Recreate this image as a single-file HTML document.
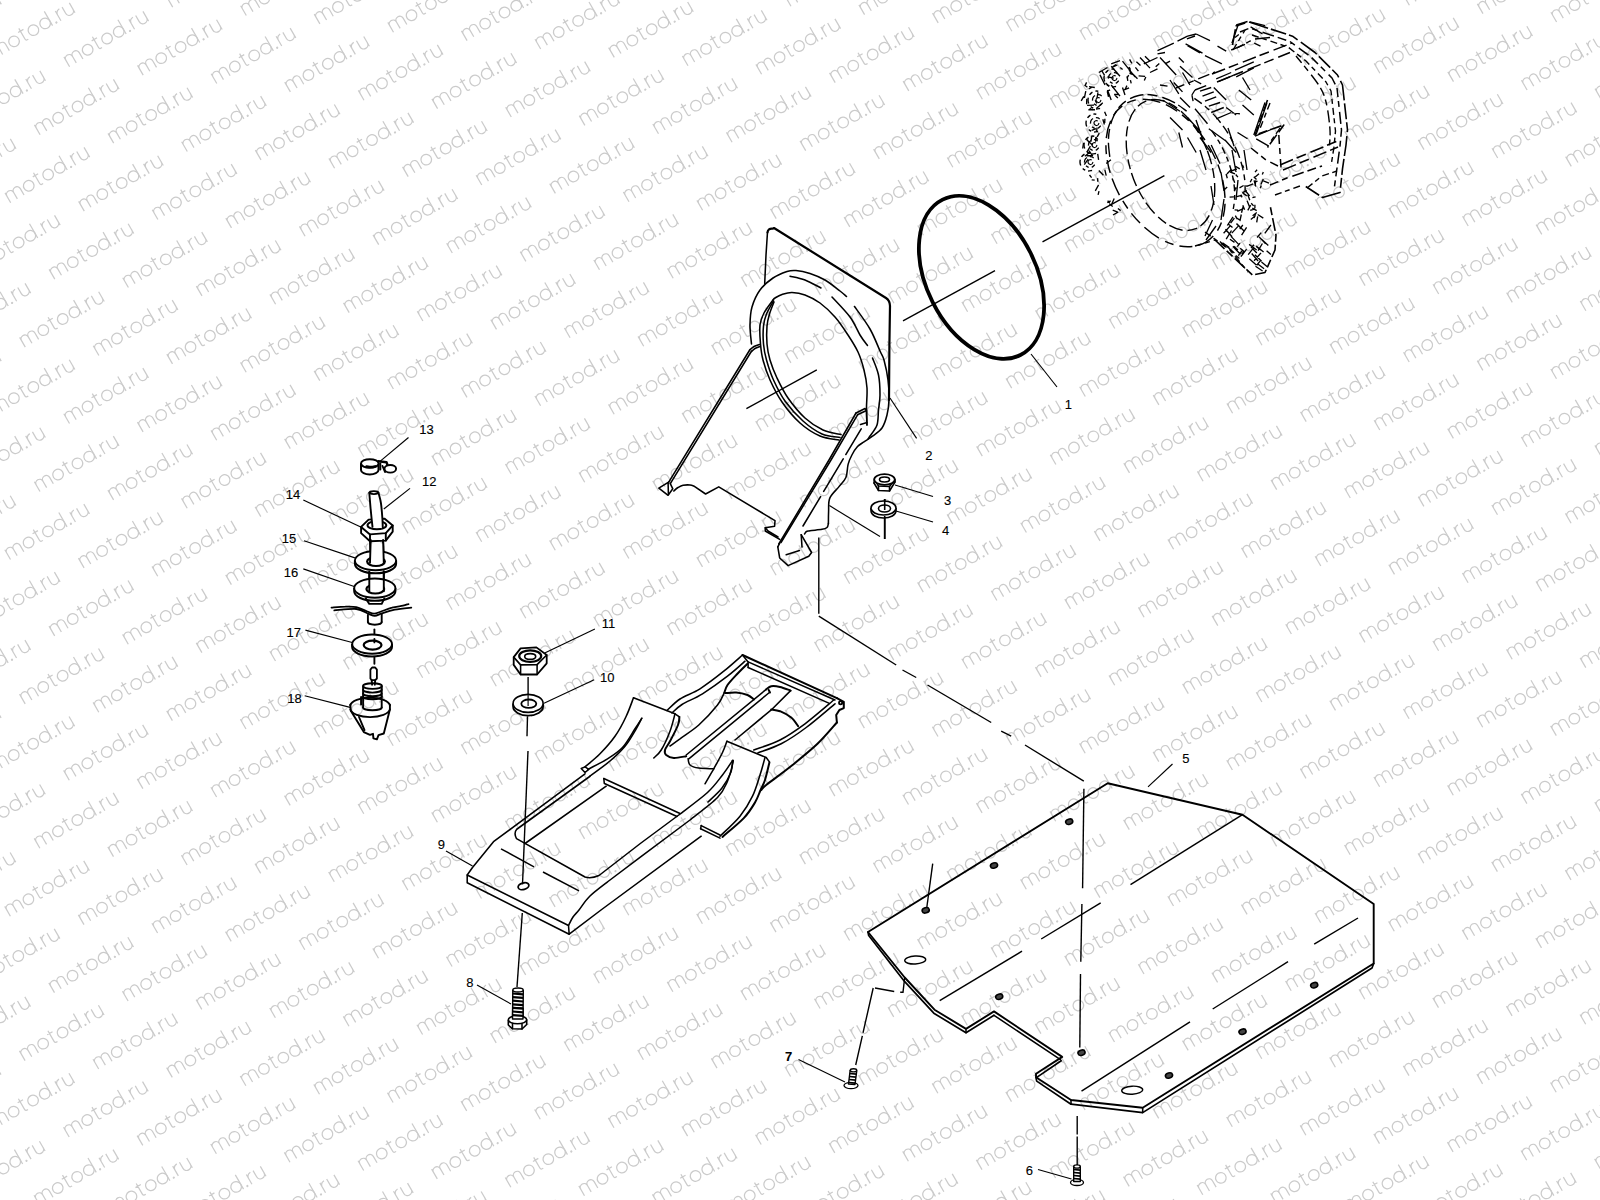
<!DOCTYPE html>
<html><head><meta charset="utf-8"><title>diagram</title>
<style>
html,body{margin:0;padding:0;background:#fff;}
body{width:1600px;height:1200px;overflow:hidden;font-family:"Liberation Sans",sans-serif;}
svg{display:block;position:absolute;left:0;top:0;}
.wm{fill:none;stroke:#cbcbcb;stroke-width:1.25;stroke-linecap:butt;}
.p{fill:none;stroke:#000;stroke-width:1.55;stroke-linejoin:round;stroke-linecap:round;}
.l{fill:none;stroke:#000;stroke-width:1.15;stroke-linecap:butt;}
.t{font-family:"Liberation Sans",sans-serif;font-size:13px;fill:#000;text-anchor:middle;stroke:#000;stroke-width:0.12px;}
.w{fill:#fff;stroke:#000;stroke-width:1.55;stroke-linejoin:round;}
.k{fill:#000;stroke:none;}
.g2 .p,.g2 .w{stroke-width:1.9;}
</style></head><body>
<svg width="1600" height="1200" viewBox="0 0 1600 1200">
<defs>
<g id="w" transform="rotate(-30)">
<path d="M0,0V-11.3M0,-7.4A3.85,3.85 0 0 1 7.7,-7.4V0M7.7,-7.4A3.85,3.85 0 0 1 15.4,-7.4V0M34.7,-14.5V-2.2Q34.7,0.2 37.6,-0.4M32,-11.3H38.2M65.3,0V-16.5M75,0V-11.3M75,-6.8Q75.3,-11 79.6,-11.2M82.8,-11.3V-4.2A4.2,4.2 0 0 0 91.2,-4.2M91.2,-11.3V0"/>
<circle cx="24.1" cy="-5.65" r="5.3"/><circle cx="46.5" cy="-5.65" r="5.3"/><circle cx="60" cy="-5.65" r="5.3"/>
<circle cx="70.2" cy="-0.8" r="0.5"/>
</g>
</defs>
<g class="wm">
<use href="#w" x="-48.2" y="-18.1"/>
<use href="#w" x="-77.6" y="49.9"/>
<use href="#w" x="-107.1" y="117.9"/>
<use href="#w" x="25.5" y="-9.7"/>
<use href="#w" x="-4.0" y="58.3"/>
<use href="#w" x="-33.5" y="126.3"/>
<use href="#w" x="-63.0" y="194.3"/>
<use href="#w" x="-92.4" y="262.3"/>
<use href="#w" x="99.1" y="-1.3"/>
<use href="#w" x="69.6" y="66.7"/>
<use href="#w" x="40.1" y="134.7"/>
<use href="#w" x="10.7" y="202.7"/>
<use href="#w" x="-18.8" y="270.7"/>
<use href="#w" x="-48.3" y="338.7"/>
<use href="#w" x="-77.8" y="406.7"/>
<use href="#w" x="-107.2" y="474.7"/>
<use href="#w" x="172.7" y="7.1"/>
<use href="#w" x="143.2" y="75.1"/>
<use href="#w" x="113.7" y="143.1"/>
<use href="#w" x="84.3" y="211.1"/>
<use href="#w" x="54.8" y="279.1"/>
<use href="#w" x="25.3" y="347.1"/>
<use href="#w" x="-4.1" y="415.1"/>
<use href="#w" x="-33.6" y="483.1"/>
<use href="#w" x="-63.1" y="551.1"/>
<use href="#w" x="-92.6" y="619.1"/>
<use href="#w" x="246.3" y="15.5"/>
<use href="#w" x="216.8" y="83.5"/>
<use href="#w" x="187.3" y="151.5"/>
<use href="#w" x="157.9" y="219.5"/>
<use href="#w" x="128.4" y="287.5"/>
<use href="#w" x="98.9" y="355.5"/>
<use href="#w" x="69.5" y="423.5"/>
<use href="#w" x="40.0" y="491.5"/>
<use href="#w" x="10.5" y="559.5"/>
<use href="#w" x="-18.9" y="627.5"/>
<use href="#w" x="-48.4" y="695.5"/>
<use href="#w" x="-77.9" y="763.5"/>
<use href="#w" x="-107.3" y="831.5"/>
<use href="#w" x="319.9" y="23.9"/>
<use href="#w" x="290.4" y="91.9"/>
<use href="#w" x="261.0" y="159.9"/>
<use href="#w" x="231.5" y="227.9"/>
<use href="#w" x="202.0" y="295.9"/>
<use href="#w" x="172.5" y="363.9"/>
<use href="#w" x="143.1" y="431.9"/>
<use href="#w" x="113.6" y="499.9"/>
<use href="#w" x="84.1" y="567.9"/>
<use href="#w" x="54.7" y="635.9"/>
<use href="#w" x="25.2" y="703.9"/>
<use href="#w" x="-4.3" y="771.9"/>
<use href="#w" x="-33.7" y="839.9"/>
<use href="#w" x="-63.2" y="907.9"/>
<use href="#w" x="-92.7" y="975.9"/>
<use href="#w" x="393.5" y="32.2"/>
<use href="#w" x="364.0" y="100.2"/>
<use href="#w" x="334.6" y="168.2"/>
<use href="#w" x="305.1" y="236.2"/>
<use href="#w" x="275.6" y="304.2"/>
<use href="#w" x="246.2" y="372.2"/>
<use href="#w" x="216.7" y="440.2"/>
<use href="#w" x="187.2" y="508.2"/>
<use href="#w" x="157.7" y="576.2"/>
<use href="#w" x="128.3" y="644.2"/>
<use href="#w" x="98.8" y="712.2"/>
<use href="#w" x="69.3" y="780.2"/>
<use href="#w" x="39.9" y="848.2"/>
<use href="#w" x="10.4" y="916.2"/>
<use href="#w" x="-19.1" y="984.2"/>
<use href="#w" x="-48.5" y="1052.2"/>
<use href="#w" x="-78.0" y="1120.2"/>
<use href="#w" x="-107.5" y="1188.2"/>
<use href="#w" x="467.1" y="40.6"/>
<use href="#w" x="437.6" y="108.6"/>
<use href="#w" x="408.2" y="176.6"/>
<use href="#w" x="378.7" y="244.6"/>
<use href="#w" x="349.2" y="312.6"/>
<use href="#w" x="319.8" y="380.6"/>
<use href="#w" x="290.3" y="448.6"/>
<use href="#w" x="260.8" y="516.6"/>
<use href="#w" x="231.4" y="584.6"/>
<use href="#w" x="201.9" y="652.6"/>
<use href="#w" x="172.4" y="720.6"/>
<use href="#w" x="142.9" y="788.6"/>
<use href="#w" x="113.5" y="856.6"/>
<use href="#w" x="84.0" y="924.6"/>
<use href="#w" x="54.5" y="992.6"/>
<use href="#w" x="25.1" y="1060.6"/>
<use href="#w" x="-4.4" y="1128.6"/>
<use href="#w" x="-33.9" y="1196.6"/>
<use href="#w" x="-63.3" y="1264.6"/>
<use href="#w" x="570.2" y="-19.0"/>
<use href="#w" x="540.7" y="49.0"/>
<use href="#w" x="511.3" y="117.0"/>
<use href="#w" x="481.8" y="185.0"/>
<use href="#w" x="452.3" y="253.0"/>
<use href="#w" x="422.9" y="321.0"/>
<use href="#w" x="393.4" y="389.0"/>
<use href="#w" x="363.9" y="457.0"/>
<use href="#w" x="334.4" y="525.0"/>
<use href="#w" x="305.0" y="593.0"/>
<use href="#w" x="275.5" y="661.0"/>
<use href="#w" x="246.0" y="729.0"/>
<use href="#w" x="216.6" y="797.0"/>
<use href="#w" x="187.1" y="865.0"/>
<use href="#w" x="157.6" y="933.0"/>
<use href="#w" x="128.1" y="1001.0"/>
<use href="#w" x="98.7" y="1069.0"/>
<use href="#w" x="69.2" y="1137.0"/>
<use href="#w" x="39.7" y="1205.0"/>
<use href="#w" x="643.8" y="-10.6"/>
<use href="#w" x="614.3" y="57.4"/>
<use href="#w" x="584.9" y="125.4"/>
<use href="#w" x="555.4" y="193.4"/>
<use href="#w" x="525.9" y="261.4"/>
<use href="#w" x="496.5" y="329.4"/>
<use href="#w" x="467.0" y="397.4"/>
<use href="#w" x="437.5" y="465.4"/>
<use href="#w" x="408.1" y="533.4"/>
<use href="#w" x="378.6" y="601.4"/>
<use href="#w" x="349.1" y="669.4"/>
<use href="#w" x="319.6" y="737.4"/>
<use href="#w" x="290.2" y="805.4"/>
<use href="#w" x="260.7" y="873.4"/>
<use href="#w" x="231.2" y="941.4"/>
<use href="#w" x="201.8" y="1009.4"/>
<use href="#w" x="172.3" y="1077.4"/>
<use href="#w" x="142.8" y="1145.4"/>
<use href="#w" x="113.4" y="1213.4"/>
<use href="#w" x="717.4" y="-2.2"/>
<use href="#w" x="688.0" y="65.8"/>
<use href="#w" x="658.5" y="133.8"/>
<use href="#w" x="629.0" y="201.8"/>
<use href="#w" x="599.5" y="269.8"/>
<use href="#w" x="570.1" y="337.8"/>
<use href="#w" x="540.6" y="405.8"/>
<use href="#w" x="511.1" y="473.8"/>
<use href="#w" x="481.7" y="541.8"/>
<use href="#w" x="452.2" y="609.8"/>
<use href="#w" x="422.7" y="677.8"/>
<use href="#w" x="393.2" y="745.8"/>
<use href="#w" x="363.8" y="813.8"/>
<use href="#w" x="334.3" y="881.8"/>
<use href="#w" x="304.8" y="949.8"/>
<use href="#w" x="275.4" y="1017.8"/>
<use href="#w" x="245.9" y="1085.8"/>
<use href="#w" x="216.4" y="1153.8"/>
<use href="#w" x="187.0" y="1221.8"/>
<use href="#w" x="791.0" y="6.2"/>
<use href="#w" x="761.6" y="74.2"/>
<use href="#w" x="732.1" y="142.2"/>
<use href="#w" x="702.6" y="210.2"/>
<use href="#w" x="673.2" y="278.2"/>
<use href="#w" x="643.7" y="346.2"/>
<use href="#w" x="614.2" y="414.2"/>
<use href="#w" x="584.7" y="482.2"/>
<use href="#w" x="555.3" y="550.2"/>
<use href="#w" x="525.8" y="618.2"/>
<use href="#w" x="496.3" y="686.2"/>
<use href="#w" x="466.9" y="754.2"/>
<use href="#w" x="437.4" y="822.2"/>
<use href="#w" x="407.9" y="890.2"/>
<use href="#w" x="378.5" y="958.2"/>
<use href="#w" x="349.0" y="1026.2"/>
<use href="#w" x="319.5" y="1094.2"/>
<use href="#w" x="290.0" y="1162.2"/>
<use href="#w" x="260.6" y="1230.2"/>
<use href="#w" x="864.6" y="14.6"/>
<use href="#w" x="835.2" y="82.6"/>
<use href="#w" x="805.7" y="150.6"/>
<use href="#w" x="776.2" y="218.6"/>
<use href="#w" x="746.8" y="286.6"/>
<use href="#w" x="717.3" y="354.6"/>
<use href="#w" x="687.8" y="422.6"/>
<use href="#w" x="658.4" y="490.6"/>
<use href="#w" x="628.9" y="558.5"/>
<use href="#w" x="599.4" y="626.5"/>
<use href="#w" x="569.9" y="694.5"/>
<use href="#w" x="540.5" y="762.5"/>
<use href="#w" x="511.0" y="830.5"/>
<use href="#w" x="481.5" y="898.5"/>
<use href="#w" x="452.1" y="966.5"/>
<use href="#w" x="422.6" y="1034.5"/>
<use href="#w" x="393.1" y="1102.5"/>
<use href="#w" x="363.7" y="1170.5"/>
<use href="#w" x="334.2" y="1238.5"/>
<use href="#w" x="938.2" y="22.9"/>
<use href="#w" x="908.8" y="90.9"/>
<use href="#w" x="879.3" y="158.9"/>
<use href="#w" x="849.8" y="226.9"/>
<use href="#w" x="820.4" y="294.9"/>
<use href="#w" x="790.9" y="362.9"/>
<use href="#w" x="761.4" y="430.9"/>
<use href="#w" x="732.0" y="498.9"/>
<use href="#w" x="702.5" y="566.9"/>
<use href="#w" x="673.0" y="634.9"/>
<use href="#w" x="643.6" y="702.9"/>
<use href="#w" x="614.1" y="770.9"/>
<use href="#w" x="584.6" y="838.9"/>
<use href="#w" x="555.1" y="906.9"/>
<use href="#w" x="525.7" y="974.9"/>
<use href="#w" x="496.2" y="1042.9"/>
<use href="#w" x="466.7" y="1110.9"/>
<use href="#w" x="437.3" y="1178.9"/>
<use href="#w" x="407.8" y="1246.9"/>
<use href="#w" x="1011.9" y="31.3"/>
<use href="#w" x="982.4" y="99.3"/>
<use href="#w" x="952.9" y="167.3"/>
<use href="#w" x="923.4" y="235.3"/>
<use href="#w" x="894.0" y="303.3"/>
<use href="#w" x="864.5" y="371.3"/>
<use href="#w" x="835.0" y="439.3"/>
<use href="#w" x="805.6" y="507.3"/>
<use href="#w" x="776.1" y="575.3"/>
<use href="#w" x="746.6" y="643.3"/>
<use href="#w" x="717.2" y="711.3"/>
<use href="#w" x="687.7" y="779.3"/>
<use href="#w" x="658.2" y="847.3"/>
<use href="#w" x="628.8" y="915.3"/>
<use href="#w" x="599.3" y="983.3"/>
<use href="#w" x="569.8" y="1051.3"/>
<use href="#w" x="540.3" y="1119.3"/>
<use href="#w" x="510.9" y="1187.3"/>
<use href="#w" x="481.4" y="1255.3"/>
<use href="#w" x="1085.5" y="39.7"/>
<use href="#w" x="1056.0" y="107.7"/>
<use href="#w" x="1026.5" y="175.7"/>
<use href="#w" x="997.1" y="243.7"/>
<use href="#w" x="967.6" y="311.7"/>
<use href="#w" x="938.1" y="379.7"/>
<use href="#w" x="908.6" y="447.7"/>
<use href="#w" x="879.2" y="515.7"/>
<use href="#w" x="849.7" y="583.7"/>
<use href="#w" x="820.2" y="651.7"/>
<use href="#w" x="790.8" y="719.7"/>
<use href="#w" x="761.3" y="787.7"/>
<use href="#w" x="731.8" y="855.7"/>
<use href="#w" x="702.4" y="923.7"/>
<use href="#w" x="672.9" y="991.7"/>
<use href="#w" x="643.4" y="1059.7"/>
<use href="#w" x="614.0" y="1127.7"/>
<use href="#w" x="584.5" y="1195.7"/>
<use href="#w" x="555.0" y="1263.7"/>
<use href="#w" x="1188.5" y="-19.9"/>
<use href="#w" x="1159.1" y="48.1"/>
<use href="#w" x="1129.6" y="116.1"/>
<use href="#w" x="1100.1" y="184.1"/>
<use href="#w" x="1070.7" y="252.1"/>
<use href="#w" x="1041.2" y="320.1"/>
<use href="#w" x="1011.7" y="388.1"/>
<use href="#w" x="982.3" y="456.1"/>
<use href="#w" x="952.8" y="524.1"/>
<use href="#w" x="923.3" y="592.1"/>
<use href="#w" x="893.8" y="660.1"/>
<use href="#w" x="864.4" y="728.1"/>
<use href="#w" x="834.9" y="796.1"/>
<use href="#w" x="805.4" y="864.1"/>
<use href="#w" x="776.0" y="932.1"/>
<use href="#w" x="746.5" y="1000.1"/>
<use href="#w" x="717.0" y="1068.1"/>
<use href="#w" x="687.6" y="1136.1"/>
<use href="#w" x="658.1" y="1204.1"/>
<use href="#w" x="1262.2" y="-11.5"/>
<use href="#w" x="1232.7" y="56.5"/>
<use href="#w" x="1203.2" y="124.5"/>
<use href="#w" x="1173.8" y="192.5"/>
<use href="#w" x="1144.3" y="260.5"/>
<use href="#w" x="1114.8" y="328.5"/>
<use href="#w" x="1085.3" y="396.5"/>
<use href="#w" x="1055.9" y="464.5"/>
<use href="#w" x="1026.4" y="532.5"/>
<use href="#w" x="996.9" y="600.5"/>
<use href="#w" x="967.5" y="668.5"/>
<use href="#w" x="938.0" y="736.5"/>
<use href="#w" x="908.5" y="804.5"/>
<use href="#w" x="879.0" y="872.5"/>
<use href="#w" x="849.6" y="940.5"/>
<use href="#w" x="820.1" y="1008.5"/>
<use href="#w" x="790.6" y="1076.5"/>
<use href="#w" x="761.2" y="1144.5"/>
<use href="#w" x="731.7" y="1212.5"/>
<use href="#w" x="1335.8" y="-3.1"/>
<use href="#w" x="1306.3" y="64.9"/>
<use href="#w" x="1276.8" y="132.9"/>
<use href="#w" x="1247.4" y="200.9"/>
<use href="#w" x="1217.9" y="268.9"/>
<use href="#w" x="1188.4" y="336.9"/>
<use href="#w" x="1158.9" y="404.9"/>
<use href="#w" x="1129.5" y="472.9"/>
<use href="#w" x="1100.0" y="540.9"/>
<use href="#w" x="1070.5" y="608.9"/>
<use href="#w" x="1041.1" y="676.9"/>
<use href="#w" x="1011.6" y="744.9"/>
<use href="#w" x="982.1" y="812.9"/>
<use href="#w" x="952.7" y="880.9"/>
<use href="#w" x="923.2" y="948.9"/>
<use href="#w" x="893.7" y="1016.9"/>
<use href="#w" x="864.2" y="1084.9"/>
<use href="#w" x="834.8" y="1152.9"/>
<use href="#w" x="805.3" y="1220.9"/>
<use href="#w" x="1409.4" y="5.2"/>
<use href="#w" x="1379.9" y="73.2"/>
<use href="#w" x="1350.4" y="141.2"/>
<use href="#w" x="1321.0" y="209.2"/>
<use href="#w" x="1291.5" y="277.2"/>
<use href="#w" x="1262.0" y="345.2"/>
<use href="#w" x="1232.6" y="413.2"/>
<use href="#w" x="1203.1" y="481.2"/>
<use href="#w" x="1173.6" y="549.2"/>
<use href="#w" x="1144.1" y="617.2"/>
<use href="#w" x="1114.7" y="685.2"/>
<use href="#w" x="1085.2" y="753.2"/>
<use href="#w" x="1055.7" y="821.2"/>
<use href="#w" x="1026.3" y="889.2"/>
<use href="#w" x="996.8" y="957.2"/>
<use href="#w" x="967.3" y="1025.2"/>
<use href="#w" x="937.9" y="1093.2"/>
<use href="#w" x="908.4" y="1161.2"/>
<use href="#w" x="878.9" y="1229.2"/>
<use href="#w" x="1483.0" y="13.6"/>
<use href="#w" x="1453.5" y="81.6"/>
<use href="#w" x="1424.0" y="149.6"/>
<use href="#w" x="1394.6" y="217.6"/>
<use href="#w" x="1365.1" y="285.6"/>
<use href="#w" x="1335.6" y="353.6"/>
<use href="#w" x="1306.2" y="421.6"/>
<use href="#w" x="1276.7" y="489.6"/>
<use href="#w" x="1247.2" y="557.6"/>
<use href="#w" x="1217.8" y="625.6"/>
<use href="#w" x="1188.3" y="693.6"/>
<use href="#w" x="1158.8" y="761.6"/>
<use href="#w" x="1129.3" y="829.6"/>
<use href="#w" x="1099.9" y="897.6"/>
<use href="#w" x="1070.4" y="965.6"/>
<use href="#w" x="1040.9" y="1033.6"/>
<use href="#w" x="1011.5" y="1101.6"/>
<use href="#w" x="982.0" y="1169.6"/>
<use href="#w" x="952.5" y="1237.6"/>
<use href="#w" x="1556.6" y="22.0"/>
<use href="#w" x="1527.1" y="90.0"/>
<use href="#w" x="1497.7" y="158.0"/>
<use href="#w" x="1468.2" y="226.0"/>
<use href="#w" x="1438.7" y="294.0"/>
<use href="#w" x="1409.2" y="362.0"/>
<use href="#w" x="1379.8" y="430.0"/>
<use href="#w" x="1350.3" y="498.0"/>
<use href="#w" x="1320.8" y="566.0"/>
<use href="#w" x="1291.4" y="634.0"/>
<use href="#w" x="1261.9" y="702.0"/>
<use href="#w" x="1232.4" y="770.0"/>
<use href="#w" x="1203.0" y="838.0"/>
<use href="#w" x="1173.5" y="906.0"/>
<use href="#w" x="1144.0" y="974.0"/>
<use href="#w" x="1114.5" y="1042.0"/>
<use href="#w" x="1085.1" y="1110.0"/>
<use href="#w" x="1055.6" y="1178.0"/>
<use href="#w" x="1026.1" y="1246.0"/>
<use href="#w" x="1600.7" y="98.4"/>
<use href="#w" x="1571.3" y="166.4"/>
<use href="#w" x="1541.8" y="234.4"/>
<use href="#w" x="1512.3" y="302.4"/>
<use href="#w" x="1482.9" y="370.4"/>
<use href="#w" x="1453.4" y="438.4"/>
<use href="#w" x="1423.9" y="506.4"/>
<use href="#w" x="1394.5" y="574.4"/>
<use href="#w" x="1365.0" y="642.4"/>
<use href="#w" x="1335.5" y="710.4"/>
<use href="#w" x="1306.0" y="778.4"/>
<use href="#w" x="1276.6" y="846.4"/>
<use href="#w" x="1247.1" y="914.4"/>
<use href="#w" x="1217.6" y="982.4"/>
<use href="#w" x="1188.2" y="1050.4"/>
<use href="#w" x="1158.7" y="1118.4"/>
<use href="#w" x="1129.2" y="1186.4"/>
<use href="#w" x="1099.8" y="1254.4"/>
<use href="#w" x="1615.4" y="242.8"/>
<use href="#w" x="1585.9" y="310.8"/>
<use href="#w" x="1556.5" y="378.8"/>
<use href="#w" x="1527.0" y="446.8"/>
<use href="#w" x="1497.5" y="514.8"/>
<use href="#w" x="1468.1" y="582.8"/>
<use href="#w" x="1438.6" y="650.8"/>
<use href="#w" x="1409.1" y="718.8"/>
<use href="#w" x="1379.6" y="786.8"/>
<use href="#w" x="1350.2" y="854.8"/>
<use href="#w" x="1320.7" y="922.8"/>
<use href="#w" x="1291.2" y="990.8"/>
<use href="#w" x="1261.8" y="1058.8"/>
<use href="#w" x="1232.3" y="1126.8"/>
<use href="#w" x="1202.8" y="1194.8"/>
<use href="#w" x="1173.4" y="1262.8"/>
<use href="#w" x="1600.6" y="455.2"/>
<use href="#w" x="1571.1" y="523.2"/>
<use href="#w" x="1541.7" y="591.2"/>
<use href="#w" x="1512.2" y="659.2"/>
<use href="#w" x="1482.7" y="727.2"/>
<use href="#w" x="1453.3" y="795.2"/>
<use href="#w" x="1423.8" y="863.2"/>
<use href="#w" x="1394.3" y="931.2"/>
<use href="#w" x="1364.8" y="999.2"/>
<use href="#w" x="1335.4" y="1067.2"/>
<use href="#w" x="1305.9" y="1135.2"/>
<use href="#w" x="1276.4" y="1203.2"/>
<use href="#w" x="1615.3" y="599.6"/>
<use href="#w" x="1585.8" y="667.6"/>
<use href="#w" x="1556.3" y="735.6"/>
<use href="#w" x="1526.9" y="803.6"/>
<use href="#w" x="1497.4" y="871.6"/>
<use href="#w" x="1467.9" y="939.6"/>
<use href="#w" x="1438.5" y="1007.6"/>
<use href="#w" x="1409.0" y="1075.6"/>
<use href="#w" x="1379.5" y="1143.6"/>
<use href="#w" x="1350.0" y="1211.6"/>
<use href="#w" x="1600.5" y="811.9"/>
<use href="#w" x="1571.0" y="879.9"/>
<use href="#w" x="1541.5" y="947.9"/>
<use href="#w" x="1512.1" y="1015.9"/>
<use href="#w" x="1482.6" y="1083.9"/>
<use href="#w" x="1453.1" y="1151.9"/>
<use href="#w" x="1423.7" y="1219.9"/>
<use href="#w" x="1615.1" y="956.3"/>
<use href="#w" x="1585.7" y="1024.3"/>
<use href="#w" x="1556.2" y="1092.3"/>
<use href="#w" x="1526.7" y="1160.3"/>
<use href="#w" x="1497.3" y="1228.3"/>
<use href="#w" x="1600.3" y="1168.7"/>
<use href="#w" x="1570.9" y="1236.7"/>
</g>
<ellipse class="p" cx="981.5" cy="277.3" rx="54.8" ry="86.9" transform="rotate(-26.6 981.5 277.3)" style="stroke-width:3.8"/>
<path class="l" d="M1164.4,175.6 L1042.5,241.8" style="stroke-width:1.35"/>
<path class="l" d="M995,270.6 L903,320.9" style="stroke-width:1.35"/>
<path class="l" d="M816.8,369.8 L746.4,408.6" style="stroke-width:1.35"/>
<text class="t" x="1068.4" y="408.6">1</text>
<path class="l" d="M1031,354 L1057,387"/>
<text class="t" x="928.8" y="460.3">2</text>
<path class="l" d="M890,398 L916.6,438.4"/>
<text class="t" x="947.5" y="504.8">3</text>
<path class="l" d="M895,485 L933,496.5"/>
<text class="t" x="945.5" y="535.3">4</text>
<path class="l" d="M896,511 L933,522"/>
<text class="t" x="1185.8" y="762.8">5</text>
<path class="l" d="M1172.5,764 L1148,786.8"/>
<text class="t" x="1029.3" y="1174.8">6</text>
<path class="l" d="M1038,1169.5 L1071.5,1179"/>
<text class="t" x="788.5" y="1060.8" style="font-weight:bold">7</text>
<path class="l" d="M798.5,1059.5 L845,1082"/>
<text class="t" x="469.8" y="987.3">8</text>
<path class="l" d="M477,985 L511,1004"/>
<text class="t" x="441.4" y="848.8">9</text>
<path class="l" d="M446,851 L472.5,866"/>
<text class="t" x="607.2" y="682.1">10</text>
<path class="l" d="M594.2,679.8 L544,703.2"/>
<text class="t" x="608.6" y="627.8">11</text>
<path class="l" d="M594.9,628.9 L544.7,653"/>
<text class="t" x="429.2" y="485.9">12</text>
<path class="l" d="M410,488.4 L383.8,509"/>
<text class="t" x="426.4" y="434.4">13</text>
<path class="l" d="M408.5,437.5 L379.7,461.6"/>
<text class="t" x="293" y="499">14</text>
<path class="l" d="M303.3,500 L361.8,527.6"/>
<text class="t" x="288.9" y="543">15</text>
<path class="l" d="M304,540.7 L354.9,557.9"/>
<text class="t" x="291" y="576.8">16</text>
<path class="l" d="M303.3,568.9 L354.9,586.8"/>
<text class="t" x="293.7" y="637.3">17</text>
<path class="l" d="M305.4,630.1 L352.2,642.5"/>
<text class="t" x="294.4" y="702.8">18</text>
<path class="l" d="M304.7,695.7 L350.1,707.4"/>
<path class="l" d="M818.8,537.5 L818.8,613.8" style="stroke-width:1.4"/>
<path class="l" d="M818.8,616.2 L896.2,665" style="stroke-width:1.4"/>
<path class="l" d="M902.5,670 L916.2,677.5" style="stroke-width:1.4"/>
<path class="l" d="M927.5,685 L991.2,722.5" style="stroke-width:1.4"/>
<path class="l" d="M1001.2,731.2 L1011.2,736.2" style="stroke-width:1.4"/>
<path class="l" d="M1025,745 L1083.8,781.2" style="stroke-width:1.4"/>
<path class="l" d="M1083.9,788.8 L1082.6,888.2" style="stroke-width:1.4"/>
<path class="l" d="M1081.9,904 L1080.8,961.8" style="stroke-width:1.4"/>
<path class="l" d="M1080.5,974 L1079.8,1047.5" style="stroke-width:1.4"/>
<path class="l" d="M1077.2,1116 L1077.2,1134.5" style="stroke-width:1.4"/>
<path class="l" d="M1077.2,1136.5 L1077.2,1165" style="stroke-width:1.4"/>
<path class="l" d="M528.1,677 L528.1,696" style="stroke-width:1.4"/>
<path class="l" d="M527.5,716.2 L527,736.2" style="stroke-width:1.4"/>
<path class="l" d="M528,751 L522.5,884.4" style="stroke-width:1.4"/>
<path class="l" d="M522.3,913 L517,987" style="stroke-width:1.4"/>
<path class="l" d="M884.7,499 L884.7,539" style="stroke-width:1.6"/>
<path class="l" d="M829.4,505.6 L880,536.5"/>
<path class="p" d="M767.5,232.5 Q767.8,228 773,228.6 L774,228 L886,298 Q889.8,300.5 890,306 L889.4,345 L889,400" style="stroke-width:2.2"/>
<path class="p" d="M767.5,232 L766,255 L764.7,283.5"/>
<path class="p" d="M751.5,344C751.2,340.8 749.9,331.2 750,325C750.1,318.8 750.3,312.8 752,307C753.7,301.2 756.5,294.8 760,290C763.5,285.2 768.5,281.1 773,278C777.5,274.9 783.2,272.8 787,271.5C790.8,270.2 792.2,270.2 796,270.5C799.8,270.8 805.2,271.9 810,273.5C814.8,275.1 820,277.1 825,280C830,282.9 836.4,288.2 840,291C843.6,293.8 845.4,295.6 846.5,296.5"/>
<path class="p" d="M854.5,306.5C857.1,310.2 865.8,321.6 870,329C874.2,336.4 877.7,345.8 880,351C882.3,356.2 882.7,355.2 884,360C885.3,364.8 887.2,373.3 888,380C888.8,386.7 889.2,394.2 889,400C888.8,405.8 888.2,410.3 887,415C885.8,419.7 884.4,424.5 882,428C879.6,431.5 875.5,433.9 872.5,436.2C869.5,438.6 866.5,440.2 864,441.9C861.5,443.6 859.5,444.4 857.5,446.6C855.5,448.8 853.5,452 851.9,455C850.3,458 849.1,460.6 848.1,464.4C847.1,468.1 847.5,473.8 845.9,477.5C844.3,481.2 841.4,483.5 838.8,486.9C836.1,490.3 831.4,494 829.8,498.1C828.1,502.2 828.8,507 828.6,511.2C828.4,515.5 828.4,521.4 828.4,523.4"/>
<path class="p" d="M773,300C773.3,299.7 773.5,298.9 775,298C776.5,297.1 779.2,295.4 782,294.5C784.8,293.6 788.2,292.4 792,292.5C795.8,292.6 800.3,293.2 805,295C809.7,296.8 815,299.3 820,303C825,306.7 830.3,311.7 835,317C839.7,322.3 844.2,329.2 848,335C851.8,340.8 855.3,346.2 858,352C860.7,357.8 862.5,364 864,370C865.5,376 866.6,381.7 867,388C867.4,394.3 866.5,401.8 866.5,408C866.5,414.2 866.9,422.2 867,425"/>
<path class="p" d="M773,300C771.5,302.2 766.2,308.8 764,313C761.8,317.2 760.6,319.8 760,325C759.4,330.2 760,338.2 760.5,344C761,349.8 761.4,354 763,360C764.6,366 766.8,373 770,380C773.2,387 777,394.8 782,402C787,409.2 793.7,417.3 800,423C806.3,428.7 813.5,433.2 820,436C826.5,438.8 835.8,439.3 839,440"/>
<path class="p" d="M773.5,301C772.3,303.2 768.2,309.8 766.5,314C764.8,318.2 764,321 763.5,326C763,331 763,338.3 763.5,344C764,349.7 764.8,354 766.5,360C768.2,366 770.4,373.2 773.5,380C776.6,386.8 780.1,394.2 785,401C789.9,407.8 796.8,415.5 803,421C809.2,426.5 815.8,431.2 822,434C828.2,436.8 837,436.9 840,437.5"/>
<path class="p" d="M774,302C773.2,304 770.7,310 769.5,314C768.3,318 767.4,321 767,326C766.6,331 766.5,338.3 767,344C767.5,349.7 768.3,354.3 770,360C771.7,365.7 774,371.7 777,378C780,384.3 783.3,391.3 788,398C792.7,404.7 799.2,412.7 805,418C810.8,423.3 817,427.2 823,430C829,432.8 838,433.8 841,434.5"/>
<path class="p" d="M790,276.2C792.5,276.8 799.8,278 805,280C810.2,282 818.3,286.7 821,288"/>
<path class="p" d="M832,297C835,300.3 845.3,310.7 850,317C854.7,323.3 857.1,330.2 860,335C862.9,339.8 866.2,343.8 867.5,345.5"/>
<path class="p" d="M872.5,358C873.5,360.8 877.2,368.8 878.5,375C879.8,381.2 880,389.2 880,395C880,400.8 879,405 878.5,410C878,415 878.4,420.7 877,425C875.6,429.3 871.5,433.7 870,436C868.5,438.3 868.3,438.5 868,439"/>
<path class="p" d="M856,413 L865,408.5 L866.5,410.5 L866.9,425"/>
<path class="p" d="M857.5,414.7 L866,410.7"/>
<path class="p" d="M856,413 L829,460 L778.8,544"/>
<path class="p" d="M857.7,414.7 L831,460 L781,542.5"/>
<path class="p" d="M861.2,428.8 L803,526" stroke-dasharray="30 5 38 6 40 200"/>
<path class="p" d="M860.5,424.5 L867,422.5"/>
<path class="p" d="M828.4,523.4C828.2,524.1 828.1,526.5 827,527.5C825.9,528.5 824.8,528.8 822,529.3C819.2,529.8 812.6,530.4 810,530.8C807.4,531.2 807.4,531 806.5,531.5C805.6,532 804.8,533.6 804.5,534"/>
<path class="p" d="M777.8,546.9 L779.7,558 L788.1,565.6 L808.8,556.2 L811.6,552.5 L801.2,534.7"/>
<path class="p" d="M801.2,534.7 L802,547"/>
<path class="p" d="M786.2,554.8 L799.5,550.5"/>
<path class="p" d="M777.8,546.9 L779.7,543.1"/>
<path class="p" d="M749.7,350 L668.1,483.1"/>
<path class="p" d="M751.6,351 L670.3,483.6"/>
<path class="p" d="M749.7,350C750.4,349.4 752.4,347.4 754,346.5C755.6,345.6 758.6,344.8 759.5,344.5"/>
<path class="p" d="M751.6,351.5C752.2,351 753.6,349.3 755,348.5C756.4,347.7 759.2,346.8 760,346.5"/>
<path class="p" d="M669,481.8 L658.8,488.2 L668.1,495.3 L672.8,488.8 L670.3,483.6"/>
<path class="p" d="M668.1,483.1 L668.4,494"/>
<path class="p" d="M673.8,491C674.5,490.4 676.4,488.4 678,487.5C679.6,486.6 681.1,485.7 683.1,485.3C685.1,484.9 688.1,484.8 690,485C691.9,485.2 693.7,486.1 694.4,486.3 L705.6,494 L718.75,486.9 L775,520.6 L774.6,526.25 L765.25,527.75 L765.25,531 L779.7,539.4"/>
<path class="p" d="M765.2,527.8 L768,531 L778,537"/>
<path class="p" d="M874,483 L878.5,490.5 L889.5,491 L895,482"/>
<path class="p" d="M878.5,486 L878.5,490.5"/>
<path class="p" d="M889.5,486.5 L889.5,491"/>
<path class="p" d="M874,483 L874.5,479 L878.5,486 L889.5,486.5 L895,479.5 L895,482"/>
<ellipse class="w" cx="884.5" cy="479.5" rx="10.3" ry="5.3" style="stroke-width:1.8"/>
<ellipse class="p" cx="884.5" cy="479.5" rx="5" ry="2.5" style="stroke-width:1.6"/>
<path class="w" d="M871,508 L871,511 A12.5,7 0 0 0 896,511 L896,508"/>
<ellipse class="w" cx="883.5" cy="508" rx="12.5" ry="7" style="stroke-width:1.6"/>
<ellipse class="p" cx="884.5" cy="508.5" rx="6" ry="3.5" style="stroke-width:1.6"/>
<path class="l" d="M884.7,499 L884.7,510" style="stroke-width:1.6"/>
<path class="l" d="M884.7,516 L884.7,539" style="stroke-width:1.6"/>
<g class="g2">
<path class="w" d="M361,463.5 L361,470 A8.75,4.4 0 0 0 378.5,470 L378.5,463.5" style="stroke-width:2"/>
<ellipse class="w" cx="369.8" cy="463.5" rx="8.8" ry="4.3" style="stroke-width:2"/>
<path class="p" d="M366.5,466.6 Q370,467.6 375,466.4" style="stroke-width:2.6"/>
<path class="p" d="M378.3,461.3 L386.5,462.2 L387.3,464.5" style="stroke-width:2.4"/>
<path class="p" d="M380.3,463.5 L380.3,469.5" style="stroke-width:2"/>
<ellipse class="p" cx="390.3" cy="468.8" rx="5.8" ry="3.8" style="stroke-width:1.9"/>
<path class="p" d="M382.5,466 L385,472" style="stroke-width:1.9"/>
<path class="w" d="M361.1,526.9 L368.6,519.6 L384.4,518.6 L392.7,525.5 L392.7,531.7 L385.8,540.6 L370,541.3 L361.1,533.1Z"/>
<path class="p" d="M361.1,526.9 L370,534.4 L385.8,533.1 L392.7,525.5"/>
<path class="p" d="M370,534.4 L370,541.3"/>
<path class="p" d="M385.8,533.1 L385.8,540.6"/>
<ellipse class="p" cx="376.9" cy="525.2" rx="9.4" ry="4.1" style="stroke-width:2"/>
<path class="w" d="M369.3,492.9C369.5,495.1 369.9,500.6 370.4,506.3C370.9,511.9 372.1,523.4 372.5,526.9 L382.8,528.3C382.7,526.6 382.7,522.8 382.4,518.6C382.1,514.5 381.6,507.8 381,503.5C380.4,499.2 378.9,494.7 378.5,492.9Z" style="stroke:none"/>
<path class="p" d="M369.3,492.9C369.5,495.1 369.9,500.6 370.4,506.3C370.9,511.9 372.1,523.4 372.5,526.9"/>
<path class="p" d="M378.5,492.9C378.9,494.7 380.4,499.2 381,503.5C381.6,507.8 382.1,514.5 382.4,518.6C382.7,522.8 382.7,526.6 382.8,528.3"/>
<ellipse class="w" cx="373.9" cy="492.6" rx="4.5" ry="1.5"/>
<path class="p" d="M370,541.3 L370.7,561.3"/>
<path class="p" d="M383.1,540.6 L383.8,561.3"/>
<path class="w" d="M354.9,560.6 L354.9,563.7 A20.6,9.6 0 0 0 396.1,563.7 L396.1,560.6" style="stroke-width:2"/>
<ellipse class="w" cx="375.5" cy="560.6" rx="20.6" ry="9.6"/>
<ellipse class="p" cx="376" cy="561.6" rx="8.9" ry="4.4" style="stroke-width:2.2"/>
<rect x="370.7" y="543.4" width="12.4" height="19.2" fill="#fff"/>
<path class="p" d="M370.7,540 L370,562.7"/>
<path class="p" d="M383.1,540 L383.8,562.7"/>
<path class="p" d="M369.3,571.9 L369.3,585.4"/>
<path class="p" d="M383.8,571.4 L383.8,585.4"/>
<path class="w" d="M354.2,588.1 L354.2,591.2 A20.6,9.6 0 0 0 395.4,591.2 L395.4,588.1" style="stroke-width:2"/>
<ellipse class="w" cx="374.8" cy="588.1" rx="20.6" ry="9.6"/>
<ellipse class="p" cx="375.3" cy="589.1" rx="8.9" ry="4.4" style="stroke-width:2.2"/>
<rect x="369.6" y="581.3" width="13.9" height="8.3" fill="#fff"/>
<path class="p" d="M369.3,571.9 L369.3,591.2"/>
<path class="p" d="M383.8,571.4 L383.8,591.2"/>
<path class="p" d="M365.9,598.4 L369.3,603.9 L381.7,603.9 L384.4,598.4"/>
<path class="p" d="M331.5,607.7C333.8,607.5 341.1,606.6 345.3,606.6C349.4,606.5 352.6,606.3 356.3,607.1C359.9,607.9 364.3,610.4 367.3,611.5C370.2,612.6 371.8,613.6 374.1,613.6C376.4,613.6 378,612.5 381,611.5C384,610.5 388.3,608.6 392,607.7C395.7,606.7 400.3,606.2 403,605.6C405.8,605 407.6,604.3 408.5,604.1" style="stroke-width:1.8"/>
<path class="p" d="M334.3,610.4C337.9,610.2 350.5,608.5 356.3,609C362,609.6 365.5,612.7 368.6,613.8C371.7,615 372.5,616 374.8,615.9C377.1,615.8 379.1,614.2 382.4,613.2C385.7,612.1 389.9,610.6 394.8,609.7C399.6,608.8 408.5,608 411.3,607.7" style="stroke-width:1.8"/>
<path class="p" d="M367.9,614.9 L367.9,622.1"/>
<path class="p" d="M381.7,614.3 L381.7,622.1"/>
<path class="p" d="M367.9,622.1 A6.9,2.6 0 0 0 381.7,622.1"/>
<path class="p" d="M374.4,629.4 L374.4,639"/>
<path class="p" d="M374.4,656.9 L374.4,663.8"/>
<path class="w" d="M352.1,644.1 L352.1,646.8 A19.9,9.6 0 0 0 392,646.8 L392,644.1" style="stroke-width:2"/>
<ellipse class="w" cx="372.1" cy="644.1" rx="19.9" ry="9.6"/>
<ellipse class="p" cx="372.6" cy="645.1" rx="8.9" ry="4.5" style="stroke-width:2.2"/>
<path class="p" d="M374.4,639 L374.4,642.4"/>
<path class="p" d="M370.4,669.6 L370.4,678.5 L371.7,680.2 L375.2,680.2 L376.9,678.5 L376.9,669.6 L375.2,667.5 L372.1,667.5Z" style="stroke-width:1.8"/>
<path class="p" d="M371.7,680.2 L372.1,684.7"/>
<path class="p" d="M375.2,680.2 L374.8,684.7"/>
<path class="p" d="M363.1,686.1 L363.1,707.4"/>
<path class="p" d="M381.7,686.1 L381.7,707.4"/>
<ellipse class="p" cx="372.5" cy="686.1" rx="9.4" ry="2.8"/>
<path class="p" d="M363.1,689.8 A9.3,2.8 0 0 0 381.7,689.8"/>
<path class="p" d="M363.1,693.4 A9.3,2.8 0 0 0 381.7,693.4"/>
<path class="p" d="M363.1,696.4 A9.3,2.8 0 0 0 381.7,696.4"/>
<path class="p" d="M363.1,707.4 A9.3,2.8 0 0 0 381.7,707.4" style="stroke-width:2"/>
<path class="p" d="M350.3,704.6 L350.8,710.8 L363.8,732.1 L370,734.9 L373,733.8 L373.4,738.3 L376.9,739.3 L378.5,735.2 L383.8,733.5 L389.9,709.4 L389.9,704.6"/>
<path class="p" d="M350.3,709.4 A19.9,8.5 0 0 0 389.9,709.4" style="stroke-width:1.8"/>
<path class="p" d="M350.3,705.3 A19.9,8.5 0 0 1 389.9,705.3"/>
<path class="p" d="M361.1,697.1 L361.1,704.6" style="stroke-width:2"/>
<path class="p" d="M359,717 L364.5,730.1"/>
</g>
<path class="p" d="M467.2,875 L467.2,882.8 L569.2,934.2 L568.5,925.5 L467.2,875"/>
<path class="p" d="M467.2,875 L472.5,867.5 L493.5,841.7 L585,773.8"/>
<path class="p" d="M568.5,925.5C569.2,924.1 571.2,919.6 573,917C574.8,914.4 576.2,913.5 579,910C581.8,906.5 584.8,901 590,896C595.2,891 606.7,882.7 610,880 L640,857.3 L690,820 690,820C694.6,816.2 711.2,804 717.5,797.5C723.8,791 724.9,787.1 727.5,781.2C730.1,775.4 732.2,765.9 733,762.5C733.8,759.1 732.6,760.9 732.5,760.6"/>
<path class="p" d="M569.2,934.2 L601,910 L701.2,836.2"/>
<path class="p" d="M590,776.25 L516.75,829.25 Q513.5,833 516.5,838.6 L585,877 Q591,879 599,875.5 L640,843.75 L678.75,815 L678.8,815C683.5,811.2 700.2,799.2 707.5,792.5C714.8,785.8 718.3,780.3 722.5,775C726.7,769.7 730.8,763 732.5,760.6"/>
<path class="p" d="M525,843.5 L606.2,786.2"/>
<path class="p" d="M603.8,778.5 L680,813.5"/>
<path class="p" d="M605,783.8 L677,816.5"/>
<path class="p" d="M603.8,778.5 L604.3,783.5"/>
<path class="l" d="M501,848.8 L534,866.8" style="stroke-width:1.5"/>
<path class="l" d="M543,872 L579,890.8" style="stroke-width:1.5"/>
<ellipse class="p" cx="523.5" cy="886.2" rx="5.5" ry="3.3" transform="rotate(-15 523.5 886.2)" style="stroke-width:1.8"/>
<path class="p" d="M581.2,768.5 L585,766.9 L588.8,769.4 L585,772.5Z"/>
<path class="p" d="M585,766.9C587.5,764.7 595,758.9 600,753.8C605,748.6 610.6,742.5 615,736.2C619.4,730 623.2,722.7 626.2,716.2C629.3,709.8 632.3,700.8 633.5,697.8"/>
<path class="p" d="M633.5,697.8 L675,713.8 L679.4,716.9"/>
<path class="p" d="M588,769.4C591.2,767.6 601.8,762.4 607.5,758.8C613.2,755.1 617.9,752.5 622.5,747.5C627.1,742.5 631.8,733.6 635,728.8C638.2,723.9 640.8,719.9 641.9,718.1"/>
<path class="p" d="M590,776C593.3,773.5 604.2,766 610,761C615.8,756 620.6,751.6 625,746.2C629.4,740.9 633.5,733.4 636.2,728.8C639,724.1 640.7,720.2 641.6,718.5"/>
<path class="p" d="M675,713.8C674.2,716.7 672.3,725.2 670,731.2C667.7,737.3 664,745.5 661.2,750C658.5,754.5 655,756.7 653.8,758"/>
<path class="p" d="M679.4,716.9C679.2,718.2 679.6,720.9 678,725C676.4,729.1 672.2,737.1 670,741.2C667.8,745.4 665.6,747.7 665,750C664.4,752.3 664.8,753.7 666.2,755C667.7,756.3 670.4,757.8 673.8,758C677.1,758.2 684.2,756.5 686.2,756.2" style="stroke-width:2"/>
<path class="p" d="M766.2,689.4 L686.2,755"/>
<path class="p" d="M769.4,692.5 L688.8,758.8"/>
<path class="p" d="M766.2,689.4C767.1,688.9 769,686.7 771.2,686.2C773.5,685.8 776.8,686.2 780,686.9C783.2,687.6 788.8,690 790.6,690.6" style="stroke-width:2"/>
<path class="p" d="M790.6,690.6 L772.5,708.8 L735,740"/>
<path class="p" d="M768.7,690 L770,692.5" style="stroke-width:2"/>
<path class="p" d="M725.6,693.1C727.4,693 732.6,692.2 736.2,692.5C739.9,692.8 744.6,693.9 747.5,695C750.4,696.1 752.7,698.7 753.8,699.4" style="stroke-width:2"/>
<path class="p" d="M771.2,709.4C772.7,709.7 776.7,709.9 780,711.2C783.3,712.6 788.2,715 791.2,717.5C794.3,720 797,724.8 798.1,726.2" style="stroke-width:2"/>
<path class="p" d="M747.5,663.8C745.6,665.6 739.6,671.5 736.2,675C732.9,678.5 729.5,682.1 727.5,685C725.5,687.9 724.9,691.2 724.4,692.5" style="stroke-width:2"/>
<path class="p" d="M724.4,692.5C723.2,694.6 721.8,699.6 717.5,705C713.2,710.4 705,719.4 698.8,725C692.5,730.6 684.8,735.2 680,738.8C675.2,742.2 671.7,744.8 670,746"/>
<path class="p" d="M742.5,655 L836.9,698.1" style="stroke-width:2"/>
<path class="p" d="M748.1,661.9 L835,700"/>
<path class="p" d="M748.1,667.5 L828.8,703.1"/>
<path class="p" d="M742.5,655 L748.1,661.9 L748.1,667.5"/>
<path class="p" d="M836.9,698.1 L843.8,701.9 L843.8,708.1 L839.4,710 L836.2,715 L836.9,722.5" style="stroke-width:2"/>
<ellipse class="p" cx="840.6" cy="702.8" rx="1.6" ry="1.6" style="stroke-width:1.8"/>
<path class="p" d="M742.5,655C739.4,657.7 730.8,665.6 723.8,671.2C716.7,676.9 707.3,684.1 700,688.8C692.7,693.4 685.5,695.4 680,699C674.5,702.6 669.2,708.6 667,710.5"/>
<path class="p" d="M745,661.2C742.1,663.8 734.6,670.8 727.5,676.2C720.4,681.7 710.1,689 702.5,693.8C694.9,698.5 687.1,701.3 682,704.5C676.9,707.7 673.7,711.6 672,713"/>
<path class="p" d="M833.8,700C829,704 814,717.1 805,723.8C796,730.4 788.5,735.6 780,740C771.5,744.4 758.1,748.3 753.8,750"/>
<path class="p" d="M835,703.8C830.2,707.7 815.2,720.8 806.2,727.5C797.3,734.2 789.4,739.5 781.2,743.8C773.1,748 761.5,751.5 757.5,753.1"/>
<path class="p" d="M836.9,722.5C833.7,726 824.9,736.7 817.5,743.8C810.1,750.8 801,758.1 792.5,765C784,771.9 771.5,780.8 766.2,785C761,789.2 762.1,789.2 761.2,790" style="stroke-width:2"/>
<path class="p" d="M726.9,741.2 L766.2,757.5 L769.4,761.9"/>
<path class="p" d="M726.9,741.2C726.2,743.1 724.7,747.9 722.5,752.5C720.3,757.1 716.7,763.5 713.8,768.8C710.8,774 706.5,781.2 705,783.8"/>
<path class="p" d="M765,757.5C764.2,760.4 762.1,768.5 760,775C757.9,781.5 755.8,789.4 752.5,796.2C749.2,803.1 745.4,809.6 740,816.2C734.6,822.9 723.3,832.9 720,836.2"/>
<path class="p" d="M769.4,762.5C768.7,765.4 766.5,775.4 765,780C763.5,784.6 762.3,786.2 760.6,790C758.9,793.8 757.8,797.8 755,802.5C752.2,807.2 749.2,812.4 743.8,818.1C738.3,823.8 726,833.8 722.5,836.9" style="stroke-width:2"/>
<path class="p" d="M701.2,825.6 L720,835"/>
<path class="p" d="M700.6,828.8 L720,838.1"/>
<path class="p" d="M701.2,825.6 L700.6,828.8"/>
<path class="p" d="M688.1,758.8C688.4,759.8 688.2,763.4 690,765C691.8,766.6 694.8,767.5 698.8,768.1C702.7,768.7 711.2,768.6 713.8,768.8"/>
<path class="p" d="M732.5,760.6C732.2,762.5 732.8,767.4 731,772C729.2,776.6 725.8,783 722,788C718.2,793 710.3,799.7 708,802"/>
<path class="w" d="M513.7,657.1 L520.6,648.4 L536.4,647.4 L546.7,655 L546.7,663.3 L537.1,674.5 L520.6,674.5 L513.7,664.9Z" style="stroke-width:1.8"/>
<path class="p" d="M513.7,657.1 L520.6,664.9 L537.1,664.6 L546.7,655" style="stroke-width:1.6"/>
<path class="p" d="M520.6,664.9 L520.6,674.5"/>
<path class="p" d="M537.1,664.6 L537.1,674.5"/>
<ellipse class="p" cx="530.2" cy="656.1" rx="11" ry="5.8" style="stroke-width:2.2"/>
<ellipse class="p" cx="530.2" cy="656.4" rx="5.5" ry="2.8" style="stroke-width:1.6"/>
<path class="w" d="M513.1,703.4 L513.1,706.6 A15,9 0 0 0 543.1,706.6 L543.1,703.4" style="stroke-width:1.8"/>
<ellipse class="w" cx="528.1" cy="703.4" rx="15" ry="9" style="stroke-width:1.6"/>
<ellipse class="p" cx="528.8" cy="703.7" rx="7.5" ry="4.2" style="stroke-width:1.8"/>
<path class="l" d="M528.1,694 L528.1,706"/>
<path class="p" d="M868,932 L1107.7,783.2 L1242.5,814.7 L1373.7,904 L1373.7,963.5 L1142.7,1107.7 L1071,1100 L1036,1077.2 L1036,1073.7 L1062.2,1056.9 L994,1011.4 L966,1028.9 L934.5,1009.7 L904.7,977.5 L868,932" style="stroke-width:1.9"/>
<path class="p" d="M868,932 L868.7,935.5 L904.7,981.7 L933.8,1013.2 L966,1032.8 L994,1015.3" style="stroke-width:1.7"/>
<path class="p" d="M1061.2,1060.8 L1036,1077.9 L1036.7,1081.1 L1071,1104.2 L1142.7,1112.6 L1372,968 L1373.7,963.5" style="stroke-width:1.7"/>
<path class="p" d="M1142.7,1107.7 L1142.7,1112.6"/>
<path class="p" d="M1071,1100 L1071,1104.2"/>
<path class="p" d="M966,1028.9 L966,1032.8"/>
<path class="p" d="M994,1015.3 L1060.5,1059.7"/>
<path class="l" d="M1242.5,814.7 L1130.5,884.7" style="stroke-width:1.45"/>
<path class="l" d="M1100.7,902.9 L1041.2,939" style="stroke-width:1.45"/>
<path class="l" d="M1022,951.2 L939.7,1000.6" style="stroke-width:1.45"/>
<path class="l" d="M1358,918 L1314.2,944.2" style="stroke-width:1.45"/>
<path class="l" d="M1288,961.7 L1212.7,1009" style="stroke-width:1.45"/>
<path class="l" d="M1190,1021.9 L1081.5,1091.2" style="stroke-width:1.45"/>
<ellipse class="p" cx="1069.2" cy="821.7" rx="3.6" ry="2.6" transform="rotate(-15 1069.2 821.7)" style="fill:#444;stroke-width:1.6"/>
<ellipse class="p" cx="994" cy="865.5" rx="3.6" ry="2.6" transform="rotate(-15 994 865.5)" style="fill:#444;stroke-width:1.6"/>
<ellipse class="p" cx="925.7" cy="910.3" rx="3.6" ry="2.6" transform="rotate(-15 925.7 910.3)" style="fill:#444;stroke-width:1.6"/>
<ellipse class="p" cx="999.2" cy="996.7" rx="3.6" ry="2.6" transform="rotate(-15 999.2 996.7)" style="fill:#444;stroke-width:1.6"/>
<ellipse class="p" cx="1081.5" cy="1052.7" rx="3.6" ry="2.6" transform="rotate(-15 1081.5 1052.7)" style="fill:#444;stroke-width:1.6"/>
<ellipse class="p" cx="1169" cy="1075.5" rx="3.6" ry="2.6" transform="rotate(-15 1169 1075.5)" style="fill:#444;stroke-width:1.6"/>
<ellipse class="p" cx="1242.5" cy="1031.7" rx="3.6" ry="2.6" transform="rotate(-15 1242.5 1031.7)" style="fill:#444;stroke-width:1.6"/>
<ellipse class="p" cx="1314.2" cy="985.2" rx="3.6" ry="2.6" transform="rotate(-15 1314.2 985.2)" style="fill:#444;stroke-width:1.6"/>
<ellipse class="p" cx="915.2" cy="960" rx="10.5" ry="4" transform="rotate(-3 915.2 960)" style="stroke-width:1.4"/>
<ellipse class="p" cx="1132.2" cy="1090.2" rx="10.5" ry="4" transform="rotate(-3 1132.2 1090.2)" style="stroke-width:1.4"/>
<path class="l" d="M932.7,863.7 L926.8,907.5" style="stroke-width:1.4"/>
<path class="l" d="M875,988 L894.2,991.5" style="stroke-width:1.4"/>
<path class="l" d="M904.7,977.5 L903,992.2 L900.2,992.2" style="stroke-width:1.4"/>
<path class="l" d="M873.2,988 L855.7,1065" stroke-dasharray="46 3" style="stroke-width:1.4"/>
<ellipse class="w" cx="851" cy="1085.5" rx="7" ry="3.2" style="stroke-width:1.3"/>
<path class="w" d="M850.2,1070 L848.5,1084 L855,1084.5 L856.8,1070.5" style="stroke-width:1.4"/>
<ellipse class="w" cx="853.5" cy="1070.3" rx="3.2" ry="1.6" style="stroke-width:1.4"/>
<path class="l" d="M849.7,1073.5 L856.3,1074.1" style="stroke-width:1.6"/>
<path class="l" d="M849.4,1076.5 L856,1077.1" style="stroke-width:1.6"/>
<path class="l" d="M849.1,1079.5 L855.7,1080.1" style="stroke-width:1.6"/>
<path class="l" d="M848.8,1082.5 L855.4,1083.1" style="stroke-width:1.6"/>
<ellipse class="w" cx="1077" cy="1182.5" rx="6.5" ry="3" style="stroke-width:1.3"/>
<path class="w" d="M1073.7,1166.5 L1073.7,1181.5 L1080.3,1181.5 L1080.3,1166.5" style="stroke-width:1.4"/>
<ellipse class="w" cx="1077" cy="1166.5" rx="3.3" ry="1.6" style="stroke-width:1.4"/>
<path class="l" d="M1073.7,1169.5 L1080.3,1170.1" style="stroke-width:1.6"/>
<path class="l" d="M1073.7,1172.5 L1080.3,1173.1" style="stroke-width:1.6"/>
<path class="l" d="M1073.7,1175.5 L1080.3,1176.1" style="stroke-width:1.6"/>
<path class="l" d="M1073.7,1178.5 L1080.3,1179.1" style="stroke-width:1.6"/>
<path class="w" d="M512.8,990 L512.5,1018 L523,1018 L523.3,990" style="stroke-width:1.4"/>
<ellipse class="w" cx="518" cy="990" rx="5.2" ry="2" style="stroke-width:1.4"/>
<path class="l" d="M512.6,993.5 L523.2,994.3" style="stroke-width:2.2"/>
<path class="l" d="M512.6,997.1 L523.2,997.9" style="stroke-width:2.2"/>
<path class="l" d="M512.6,1000.7 L523.2,1001.5" style="stroke-width:2.2"/>
<path class="l" d="M512.6,1004.3 L523.2,1005.1" style="stroke-width:2.2"/>
<path class="l" d="M512.6,1007.9 L523.2,1008.7" style="stroke-width:2.2"/>
<path class="l" d="M512.6,1011.5 L523.2,1012.3" style="stroke-width:2.2"/>
<path class="l" d="M512.6,1015.1 L523.2,1015.9" style="stroke-width:2.2"/>
<path class="w" d="M508.3,1020 L508.3,1025 L512.5,1028.8 L522,1029 L526.7,1024.5 L526.7,1019.5" style="stroke-width:1.6"/>
<ellipse class="w" cx="517.5" cy="1019.8" rx="9.2" ry="4" style="stroke-width:1.6"/>
<path class="p" d="M512.5,1023.6 L512.5,1028.8"/>
<path class="p" d="M522,1023.8 L522,1029"/>
<path class="w" d="M512.7,1008 L512.5,1019 L523,1019 L523.1,1008" style="stroke-width:1.4"/>
<path class="l" d="M512.6,1007.9 L523.2,1008.7" style="stroke-width:2.2"/>
<path class="l" d="M512.6,1011.5 L523.2,1012.3" style="stroke-width:2.2"/>
<path class="l" d="M512.6,1015.1 L523.2,1015.9" style="stroke-width:2.2"/>
<ellipse class="p" cx="1170.5" cy="165" rx="39.5" ry="68.5" transform="rotate(-21 1170.5 165)" stroke-dasharray="14 4 10 5" style="stroke-width:1.4;stroke-linecap:butt"/>
<ellipse class="p" cx="1165.5" cy="173" rx="51" ry="80" transform="rotate(-30 1165.5 173)" stroke-dasharray="13 6 9 7 18 6" style="stroke-width:1.45;stroke-linecap:butt"/>
<path class="p" d="M1109.8,156.9C1109.5,154.4 1108.4,146.7 1108.4,141.9C1108.4,137.1 1108.9,132.3 1109.8,128C1110.6,123.7 1112,119.6 1113.7,116C1115.4,112.4 1117.6,109.1 1120,106.3C1122.5,103.5 1125.4,101.2 1128.5,99.4C1131.6,97.6 1135.1,96.2 1138.7,95.5C1142.4,94.7 1146.3,94.5 1150.3,94.8C1154.3,95.2 1158.5,96.1 1162.7,97.5C1166.9,98.9 1171.2,100.8 1175.4,103.2C1179.5,105.6 1185.7,110.5 1187.8,111.9" stroke-dasharray="14 4 10 5" style="stroke-width:1.4;stroke-linecap:butt"/>
<path class="p" d="M1211.8,130.8C1212.9,132.3 1216.1,136.9 1218,140.1C1220,143.2 1221.8,146.6 1223.4,149.9C1225,153.2 1226.5,156.6 1227.8,160.1C1229.1,163.5 1230.2,166.9 1231.2,170.4C1232.1,173.8 1232.9,177.3 1233.4,180.6C1234,184 1234.4,187.4 1234.6,190.6C1234.7,193.9 1234.7,197.1 1234.5,200.1C1234.3,203.2 1233.5,207.5 1233.3,209" stroke-dasharray="7 3.5 5 4" style="stroke-width:1.4;stroke-linecap:butt"/>
<path class="p" d="M1194.4,98.4C1196.2,99.7 1201.6,103.3 1205,106.2C1208.4,109.1 1211.8,112.4 1214.9,115.9C1218.1,119.4 1221.1,123.2 1223.9,127.2C1226.7,131.1 1229.3,135.3 1231.6,139.6C1233.9,143.9 1236,148.3 1237.8,152.8C1239.5,157.2 1241,161.8 1242.2,166.2C1243.3,170.7 1244.2,175.2 1244.7,179.6C1245.2,183.9 1245.1,190.2 1245.2,192.3" stroke-dasharray="9 4 6 5 12 4" style="stroke-width:1.4;stroke-linecap:butt"/>
<path class="p" d="M1116.1,86.5C1115.4,86.5 1113.2,87.1 1111.8,86.9C1110.5,86.7 1109,86.2 1107.8,85.4C1106.7,84.6 1105.7,83.4 1105,82.2C1104.4,80.9 1104,79.4 1104,78C1104,76.6 1104.4,75.1 1105,73.8C1105.7,72.6 1106.7,71.4 1107.8,70.6C1109,69.8 1110.5,69.3 1111.8,69.1C1113.2,68.9 1115.4,69.5 1116.1,69.5" stroke-dasharray="4 3 3 3.5 6 3" style="stroke-width:1.4;stroke-linecap:butt"/>
<path class="p" d="M1118.8,80.8C1118.3,81.1 1117.1,82.7 1116.1,83.1C1115.1,83.5 1113.7,83.6 1112.6,83.3C1111.5,83 1110.3,82.2 1109.6,81.3C1109,80.5 1108.5,79.1 1108.5,78C1108.5,76.9 1109,75.5 1109.6,74.7C1110.3,73.8 1111.5,73 1112.6,72.7C1113.7,72.4 1115.1,72.5 1116.1,72.9C1117.1,73.3 1118.3,74.9 1118.8,75.2" stroke-dasharray="4 3 3 3.5 6 3" style="stroke-width:1.3;stroke-linecap:butt"/>
<path class="p" d="M1117,78C1116.9,78.3 1116.6,79.5 1116.1,79.9C1115.6,80.3 1114.7,80.6 1114.1,80.5C1113.4,80.4 1112.7,79.8 1112.3,79.2C1112,78.7 1111.9,77.7 1112.2,77.1C1112.4,76.5 1113,75.9 1113.6,75.7C1114.2,75.4 1115.4,75.8 1115.8,75.8"  style="stroke-width:1.2;stroke-linecap:butt"/>
<path class="p" d="M1100.1,108.5C1099.4,108.5 1097.2,109.1 1095.8,108.9C1094.5,108.7 1093,108.2 1091.8,107.4C1090.7,106.6 1089.7,105.4 1089,104.2C1088.4,102.9 1088,101.4 1088,100C1088,98.6 1088.4,97.1 1089,95.8C1089.7,94.6 1090.7,93.4 1091.8,92.6C1093,91.8 1094.5,91.3 1095.8,91.1C1097.2,90.9 1099.4,91.5 1100.1,91.5" stroke-dasharray="4 3 3 3.5 6 3" style="stroke-width:1.4;stroke-linecap:butt"/>
<path class="p" d="M1102.8,102.8C1102.3,103.1 1101.1,104.7 1100.1,105.1C1099.1,105.5 1097.7,105.6 1096.6,105.3C1095.5,105 1094.3,104.2 1093.6,103.3C1093,102.5 1092.5,101.1 1092.5,100C1092.5,98.9 1093,97.5 1093.6,96.7C1094.3,95.8 1095.5,95 1096.6,94.7C1097.7,94.4 1099.1,94.5 1100.1,94.9C1101.1,95.3 1102.3,96.9 1102.8,97.2" stroke-dasharray="4 3 3 3.5 6 3" style="stroke-width:1.3;stroke-linecap:butt"/>
<path class="p" d="M1101,100C1100.9,100.3 1100.6,101.5 1100.1,101.9C1099.6,102.3 1098.7,102.6 1098.1,102.5C1097.4,102.4 1096.7,101.8 1096.3,101.2C1096,100.7 1095.9,99.7 1096.2,99.1C1096.4,98.5 1097,97.9 1097.6,97.7C1098.2,97.4 1099.4,97.8 1099.8,97.8"  style="stroke-width:1.2;stroke-linecap:butt"/>
<path class="p" d="M1098.1,131.5C1097.4,131.5 1095.2,132.1 1093.8,131.9C1092.5,131.7 1091,131.2 1089.8,130.4C1088.7,129.6 1087.7,128.4 1087,127.2C1086.4,125.9 1086,124.4 1086,123C1086,121.6 1086.4,120.1 1087,118.8C1087.7,117.6 1088.7,116.4 1089.8,115.6C1091,114.8 1092.5,114.3 1093.8,114.1C1095.2,113.9 1097.4,114.5 1098.1,114.5" stroke-dasharray="4 3 3 3.5 6 3" style="stroke-width:1.4;stroke-linecap:butt"/>
<path class="p" d="M1100.8,125.8C1100.3,126.1 1099.1,127.7 1098.1,128.1C1097.1,128.5 1095.7,128.6 1094.6,128.3C1093.5,128 1092.3,127.2 1091.6,126.3C1091,125.5 1090.5,124.1 1090.5,123C1090.5,121.9 1091,120.5 1091.6,119.7C1092.3,118.8 1093.5,118 1094.6,117.7C1095.7,117.4 1097.1,117.5 1098.1,117.9C1099.1,118.3 1100.3,119.9 1100.8,120.2" stroke-dasharray="4 3 3 3.5 6 3" style="stroke-width:1.3;stroke-linecap:butt"/>
<path class="p" d="M1099,123C1098.9,123.3 1098.6,124.5 1098.1,124.9C1097.6,125.3 1096.7,125.6 1096.1,125.5C1095.4,125.4 1094.7,124.8 1094.3,124.2C1094,123.7 1093.9,122.7 1094.2,122.1C1094.4,121.5 1095,120.9 1095.6,120.7C1096.2,120.4 1097.4,120.8 1097.8,120.8"  style="stroke-width:1.2;stroke-linecap:butt"/>
<path class="p" d="M1096.1,153.5C1095.4,153.5 1093.2,154.1 1091.8,153.9C1090.5,153.7 1089,153.2 1087.8,152.4C1086.7,151.6 1085.7,150.4 1085,149.2C1084.4,147.9 1084,146.4 1084,145C1084,143.6 1084.4,142.1 1085,140.8C1085.7,139.6 1086.7,138.4 1087.8,137.6C1089,136.8 1090.5,136.3 1091.8,136.1C1093.2,135.9 1095.4,136.5 1096.1,136.5" stroke-dasharray="4 3 3 3.5 6 3" style="stroke-width:1.4;stroke-linecap:butt"/>
<path class="p" d="M1098.8,147.8C1098.3,148.1 1097.1,149.7 1096.1,150.1C1095.1,150.5 1093.7,150.6 1092.6,150.3C1091.5,150 1090.3,149.2 1089.6,148.3C1089,147.5 1088.5,146.1 1088.5,145C1088.5,143.9 1089,142.5 1089.6,141.7C1090.3,140.8 1091.5,140 1092.6,139.7C1093.7,139.4 1095.1,139.5 1096.1,139.9C1097.1,140.3 1098.3,141.9 1098.8,142.2" stroke-dasharray="4 3 3 3.5 6 3" style="stroke-width:1.3;stroke-linecap:butt"/>
<path class="p" d="M1097,145C1096.9,145.3 1096.6,146.5 1096.1,146.9C1095.6,147.3 1094.7,147.6 1094.1,147.5C1093.4,147.4 1092.7,146.8 1092.3,146.2C1092,145.7 1091.9,144.7 1092.2,144.1C1092.4,143.5 1093,142.9 1093.6,142.7C1094.2,142.4 1095.4,142.8 1095.8,142.8"  style="stroke-width:1.2;stroke-linecap:butt"/>
<path class="p" d="M1092.1,170.5C1091.4,170.5 1089.2,171.1 1087.8,170.9C1086.5,170.7 1085,170.2 1083.8,169.4C1082.7,168.6 1081.7,167.4 1081,166.2C1080.4,164.9 1080,163.4 1080,162C1080,160.6 1080.4,159.1 1081,157.8C1081.7,156.6 1082.7,155.4 1083.8,154.6C1085,153.8 1086.5,153.3 1087.8,153.1C1089.2,152.9 1091.4,153.5 1092.1,153.5" stroke-dasharray="4 3 3 3.5 6 3" style="stroke-width:1.4;stroke-linecap:butt"/>
<path class="p" d="M1094.8,164.8C1094.3,165.1 1093.1,166.7 1092.1,167.1C1091.1,167.5 1089.7,167.6 1088.6,167.3C1087.5,167 1086.3,166.2 1085.6,165.3C1085,164.5 1084.5,163.1 1084.5,162C1084.5,160.9 1085,159.5 1085.6,158.7C1086.3,157.8 1087.5,157 1088.6,156.7C1089.7,156.4 1091.1,156.5 1092.1,156.9C1093.1,157.3 1094.3,158.9 1094.8,159.2" stroke-dasharray="4 3 3 3.5 6 3" style="stroke-width:1.3;stroke-linecap:butt"/>
<path class="p" d="M1093,162C1092.9,162.3 1092.6,163.5 1092.1,163.9C1091.6,164.3 1090.7,164.6 1090.1,164.5C1089.4,164.4 1088.7,163.8 1088.3,163.2C1088,162.7 1087.9,161.7 1088.2,161.1C1088.4,160.5 1089,159.9 1089.6,159.7C1090.2,159.4 1091.4,159.8 1091.8,159.8"  style="stroke-width:1.2;stroke-linecap:butt"/>
<path class="p" d="M1212,74 L1292,43" stroke-dasharray="14 4 10 5" style="stroke-width:1.5;stroke-linecap:butt"/>
<path class="p" d="M1217,82 L1290,52.5" stroke-dasharray="14 4 10 5" style="stroke-width:1.5;stroke-linecap:butt"/>
<path class="p" d="M1176,88 L1215,72" stroke-dasharray="9 4 6 5 12 4" style="stroke-width:1.4;stroke-linecap:butt"/>
<path class="p" d="M1232.5,45 L1236,26 L1248.8,21.9 L1292.5,36.2 L1315,52.5 L1337.5,75 L1342.5,85 L1347.5,130 L1346,145 L1342.5,168.8 L1340,192.5 L1322.5,197.5 L1305,186" stroke-dasharray="16 3 10 4 20 3" style="stroke-width:1.6;stroke-linecap:butt"/>
<path class="p" d="M1240,32 L1250,28 L1290,41.5 L1311,57 L1332,78 L1337,88 L1341.5,130 L1340,146 L1337,168 L1334,190" stroke-dasharray="9 4 6 5 12 4" style="stroke-width:1.5;stroke-linecap:butt"/>
<path class="p" d="M1252,35 L1288,47 L1306,61 L1326,82 L1331,91 L1335.5,131 L1334,147 L1331,166" stroke-dasharray="7 3.5 5 4" style="stroke-width:1.4;stroke-linecap:butt"/>
<path class="p" d="M1296,56C1299.7,60.7 1313,76.3 1318,84C1323,91.7 1324,94.3 1326,102C1328,109.7 1329.5,122 1330,130C1330.5,138 1329.2,146.7 1329,150" stroke-dasharray="9 4 6 5 12 4" style="stroke-width:1.4;stroke-linecap:butt"/>
<path class="p" d="M1233,50 L1245,30" stroke-dasharray="7 3.5 5 4" style="stroke-width:1.4;stroke-linecap:butt"/>
<path class="p" d="M1237,48 L1250,41 L1262,47" stroke-dasharray="7 3.5 5 4" style="stroke-width:1.4;stroke-linecap:butt"/>
<path class="p" d="M1280,165 L1337.5,141" stroke-dasharray="14 4 10 5" style="stroke-width:1.6;stroke-linecap:butt"/>
<path class="p" d="M1283,170 L1338,147" stroke-dasharray="14 4 10 5" style="stroke-width:1.5;stroke-linecap:butt"/>
<path class="p" d="M1278.8,135 L1281,167.5" stroke-dasharray="9 4 6 5 12 4" style="stroke-width:1.5;stroke-linecap:butt"/>
<path class="p" d="M1270,185 L1287,178 L1322,166" stroke-dasharray="9 4 6 5 12 4" style="stroke-width:1.5;stroke-linecap:butt"/>
<path class="p" d="M1275,195 L1300,186" stroke-dasharray="7 3.5 5 4" style="stroke-width:1.4;stroke-linecap:butt"/>
<path class="p" d="M1307,188 L1322,176 L1340,170" stroke-dasharray="7 3.5 5 4" style="stroke-width:1.4;stroke-linecap:butt"/>
<path class="p" d="M1267.5,100 L1255,135 L1283.8,125 L1267.5,147.5" stroke-dasharray="12 2.5 9 3" style="stroke-width:1.6;stroke-linecap:butt"/>
<path class="p" d="M1270,103 L1259,131" stroke-dasharray="7 3.5 5 4" style="stroke-width:1.4;stroke-linecap:butt"/>
<path class="p" d="M1280,128 L1271,141" stroke-dasharray="7 3.5 5 4" style="stroke-width:1.3;stroke-linecap:butt"/>
<path class="p" d="M1251,148 L1266,160 L1278,166" stroke-dasharray="9 4 6 5 12 4" style="stroke-width:1.4;stroke-linecap:butt"/>
<path class="p" d="M1215,240 L1252.5,275 L1265,272.5 L1275,250 L1276,235 L1270,205" stroke-dasharray="13 3 8 3" style="stroke-width:1.6;stroke-linecap:butt"/>
<path class="p" d="M1205,232 L1230,250 L1248,272" stroke-dasharray="7 3.5 5 4" style="stroke-width:1.4;stroke-linecap:butt"/>
<path class="p" d="M1195,246 L1215,240" stroke-dasharray="7 3.5 5 4" style="stroke-width:1.4;stroke-linecap:butt"/>
<path class="p" d="M1211,186L1214,205M1221,172.5L1224,191M1224,199L1221,220M1212.5,220L1205,236M1216,226L1206,240M1232,150L1236,172M1238,180L1236,200M1200,150L1206,170M1196,120L1203,140M1228,128L1234,146M1244,150L1247,170M1097.2,136.9l2.1,-3.7M1136.4,61.7l4.1,3.8M1130.4,80.2l0.8,3.2M1098,92.4l-1,5.6M1107.3,91.7l1.2,5.1M1084.3,164.6l3.9,-5.4M1113.6,66.7l3.7,-1.8M1089.7,108.2l2.9,1.9M1102,71.2l2.6,4.2M1084.5,85l2.9,2.2M1112.7,66.9l3.2,-2.3M1117.9,208.5l2.8,2.1M1106.9,91.5l3.2,-1.7M1120.2,67.6l2.4,2M1105.6,83.1l3.7,3.2M1088.7,89l2.9,-1.5M1114.7,94.9l3.2,3.1M1127.1,76.1l0.7,4.8M1129.1,67l1.4,4.1M1129.9,67.8l0.6,6.5M1089.5,175l2.1,2.6M1091.7,179.8l3,0.4M1106.2,163.5l4.7,-3.8M1109.4,203.8l3.3,2.7M1107.4,76.8l6.4,1.4M1091.7,130.4l4.2,-1.8M1104.6,111.7l1.8,4.3M1097.6,178.1l0.2,3.6M1086.6,155.7l5.1,0M1089,86.7l5.8,0.8M1085.8,91.2l-1.4,6.6M1095.3,190.8l3.3,-5.9M1138.6,75.8l6.5,0.6M1083.5,143l-0.8,5.5M1098.8,170.5l4.6,4.7M1107.7,200.6l2,2.6M1096.3,108.6l5.2,-4.6M1095.7,137.3l-0,4.5M1099,191.1l-0.9,3.7M1129.6,59.4l2.2,4M1088.1,141.2l4.7,4.1M1114.1,94.4l4.7,0.1M1097.7,153.9l0.9,6M1084.8,86.1l1.8,-3.7M1084.8,156.3l5.1,-4M1124.1,89.9l5,-2.1M1107.3,202.6l3.4,-1.7M1090.4,146.2l-3.5,5.9M1091.9,135.9l-1,5.7M1126.8,78.4l1.9,-3.2M1095.2,100.3l1.6,3.2M1135.4,67.4l3,3.8M1097,127.6l-0.3,3.8M1095.7,137l2.1,2.6M1126.9,85.6l-1.7,3.6M1114.2,198.4l-2.4,5.6M1088.4,109.7l6.6,0M1086.8,98.7l-0.2,5.6M1113,215l5.2,-3M1102.8,119.2l1.6,5.3M1083.8,96.4l-2.6,4.5M1088.9,150.6l3.9,5.5M1112.7,210.2l5,2M1104.9,118.8l-0.2,4.1M1104.8,169.7l1.4,5.9M1087.1,105.4l6.9,-0.3M1155.7,66.8l3.6,-3.4M1129.5,73.4l3.6,1.2M1087,139.5l2.1,2.8M1145.8,76.9l-1.5,3.7M1157.5,50.6L1173.8,43.1M1177.5,41.2L1187.5,36.2M1187.5,36.2L1196.2,34M1196.2,34L1210,40.6M1186.9,38.8L1195,36M1185.6,43.8L1202.5,53.1M1187.5,45.6L1200,52.8M1205,55.6L1221.9,63.8M1217.5,46.2L1226.2,51.2M1231.2,50L1245,44.4M1238.1,25L1231.9,43.1M1236.2,25L1247.5,21.5M1250,21.9L1265,25.6M1250.6,26.9L1262.5,33.8M1255,39L1270,37.5M1238.8,34.4L1235,37.5M1216.2,78.8L1231.2,72.5M1235,70.2L1253.8,61.9M1218.8,81.5L1233.8,75.2M1236.2,76.9L1253.8,67.8M1098.8,72.5L1107.5,67.5M1111.2,63.8L1120,60.6M1100,75L1105,85M1111.2,66.2L1120,76.2M1122.5,61.2L1135,76.9M1128.8,70L1137.5,78.8M1140,57.5L1150,68.1M1145,56.2L1150,61.2M1143.8,63.8L1157.5,57.5M1150,72.5L1157.5,68.8M1157.5,53.8L1165,52.5M1160,57.5L1176.2,75M1165,63.8L1170,61.2M1170,80L1178.8,93.8M1173.8,82.5L1182.5,91.9M1160,85L1167.5,86.2M1180,66.2L1192.5,77.5M1178.8,57.5L1183.8,62.5M1182.5,72.5L1190,85M1193.8,80L1201.2,83.8M1111.2,85L1120,96.2M1107.5,90L1111.2,100M1122.5,87.5L1125,95M1191.9,95L1195,90M1195,90L1206.2,85.6M1191.9,95L1193.1,101.2M1200,91.2L1211.2,87.5M1202.5,96.2L1213.8,91.9M1205,101.2L1216.2,96.9M1208.8,106.2L1220,102.5M1213.8,87.5L1226.2,100M1211.2,112.5L1223.8,107.5M1216.2,118.8L1231.2,112.5M1226.2,107.5L1236.2,115M1231.2,112.5L1240,113.8M1162.5,100L1180,111.2M1180,97.5L1190,107.5M1170,117.5L1182.5,130M1187.5,117.5L1201.2,132.5M1195,108.8L1207.5,123.8M1178.8,132.5L1182.5,147.5M1187.5,137.5L1196.2,152.5M1200,137.5L1211.2,152.5M1208.8,128.8L1226.2,141.2M1211.2,145L1220,163.8M1225,140L1236.2,152.5M1237.5,132.5L1247.5,138.8M1242.5,105L1253.8,115M1238.8,90L1251.2,100M1242.5,77.5L1250,90M1255,136.2L1270,130M1256.2,138.8L1268.8,146.2M1265,102.5L1253.8,135M1266.9,103.1L1256.2,134.4M1258.1,250.6l4.3,-7.1M1254.9,254.8l6.7,6.5M1225.4,229.2l6.7,7.6M1229.9,239.2l4.6,3.2M1241.6,235.2l5,-7.8M1249.3,258.8l7,6.1M1236.5,223.6l7.8,7.7M1232.9,246.3l3.6,3.9M1251,248.1l3,-3.4M1241.7,254.1l2.6,-3.1M1248.2,254.6l5.5,-6.9M1230.6,223.1l3.8,-5M1264.8,233.4l6.1,-8.4M1231.8,233.1l6.2,-6.7M1252.2,248.3l4.6,4.7M1236.5,223.8l3.8,3.6M1256.7,265.2l3.6,-4.3M1261.3,239.1l7,6.5M1255.5,266.2l7.1,4.8M1238.2,255.6l4.8,-5.9M1257.1,237.5l4.1,-4.9M1222.5,242.8l6.8,4.8M1219.9,241.5l5.5,5.3M1254.1,260.7l6.9,-7.8M1228.5,224.2l4,3.3M1226.2,239.2l5.3,-8.7M1240.9,256.7l5.7,-7.5M1240.2,248.3l4.2,3.4M1234.8,248.5l5.7,5.8M1227.3,225.5l5.7,-8.7M1266.6,250.7l4.3,3.9M1233.8,246.2l4.1,3.7M1259.1,236.9l6.5,6.9M1239.8,229.1l3,-4.1M1223.6,233.3l6.4,-7.2M1249.1,244.4l7.6,5.6M1261.5,261.9l6.4,5.3M1256.2,246l7.4,6M1226.5,246l7.9,7.1M1237.3,246.7l2.7,-3.5M1251.7,253.5l6.4,7.5M1235.7,255.5l3.7,3M1257.5,263.8l6.6,5M1231,236.4l7.4,7.7M1256.5,246.7l4.2,3.3M1255.6,180.4l-0.4,5.7M1237.3,211.3l4.8,-2.1M1230.2,172l4.8,1.8M1226.1,174l1.2,4.3M1257.5,181.2l-2.9,1M1231.5,169.2l-4.6,4.8M1250.7,205.1l-2.9,5.3M1252.4,197.7l3.2,-0.8M1236.1,187.4l-1.8,3.6M1235.5,166.4l4.3,2.5M1235.7,174.5l2.2,2.6M1252.3,208.2l4.4,2.5M1254.1,180.4l1.6,6.3M1242.8,205.2l1.8,4.6M1247.8,194.7l2,5.5M1263.3,180.8l5.7,2.4M1235.3,215.6l2,3.6M1229.6,197.1l4.3,-0.2M1256.8,212.5l-4.2,3.3M1257.1,169.8l-2.1,2.3M1239.8,195.3l2.5,1.8M1255.2,208.8l-5,1.6M1243.6,185.5l-4.1,2.3M1261.3,185.4l-1.1,2.8M1246,186.1l2.7,-0.5M1255.4,215.8l-4.6,3.7M1236,196.8l6.1,-1.7M1247.1,200.7l2.6,6.5M1255.6,214l-1.6,4.1M1259,173.8l-5,4.3M1233.2,178.6l1.5,4.2M1242.7,192.9l4.1,3M1263.3,179.1l-2.4,5.5M1257.7,214.5l5.6,3.6M1263.3,172.1l-1,2.4M1251.2,203.3l2.4,2.6M1251.9,179l-1.7,3.3M1241.3,214.5l-1.4,6.6M1242.5,164.9l1.2,2.8M1253.8,176.7l2.7,2.7M1234.6,209.8l3.5,0.3M1235.8,217.5l4.6,2.8M1242.3,192.8l4.5,-2.5M1246.7,186.3l6.5,-2.4M1230.7,171.1l6.2,-2.1M1243.2,206.5l-1.7,6.3M1257.7,216.4l-1,5.9M1245.8,191.3l3.8,4.6M1227.2,187l-2.7,2.5M1254.9,204.7l0,3.5" style="stroke-width:1.35;stroke-linecap:butt"/>
</svg>
</body></html>
